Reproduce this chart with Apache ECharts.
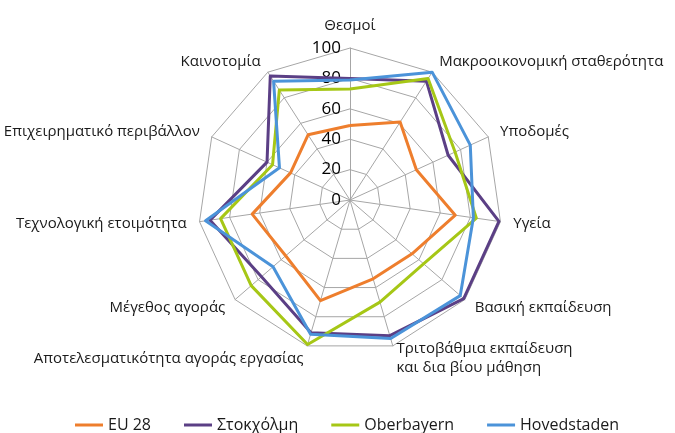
<!DOCTYPE html>
<html>
<head>
<meta charset="utf-8">
<script src="https://cdn.jsdelivr.net/npm/echarts@6/dist/echarts.min.js"></script>
<style>
  html, body { margin: 0; padding: 0; background: #fff; }
  #chart { width: 675px; height: 433px; }
</style>
</head>
<body>
<div id="chart"></div>
<script>
// indicators in clockwise order starting from the top
const indicators = [
  'Θεσμοί',
  'Μακροοικονομική σταθερότητα',
  'Υποδομές',
  'Υγεία',
  'Βασική εκπαίδευση',
  'Τριτοβάθμια εκπαίδευση\nκαι δια βίου μάθηση',
  'Αποτελεσματικότητα αγοράς εργασίας',
  'Μέγεθος αγοράς',
  'Τεχνολογική ετοιμότητα',
  'Επιχειρηματικό περιβάλλον',
  'Καινοτομία'
];
const eu28 = [49, 61, 48, 70, 54, 54, 69, 56, 65, 43, 51];
const stockholm = [80, 93, 71, 99, 99, 93, 91, 77, 93, 60, 97];
const oberbayern = [73, 95, 76, 84, 64, 70, 99, 86, 86, 56, 86];
const hovedstaden = [79, 100, 87, 82, 96, 95, 92, 67, 96, 51, 93];
const ticks = [0, 20, 40, 60, 80, 100];

const seriesNames = ['EU 28', 'Στοκχόλμη', 'Oberbayern', 'Hovedstaden'];
const colors = ['#EE7E2D', '#5B3F85', '#A6C716', '#4B93D9'];

// echarts lays radar axes out counter-clockwise, so flip the order after the first one
const order = [0].concat(indicators.map((_, i) => i).slice(1).reverse());
const pick = arr => order.map(i => arr[i]);

const font = 'Open Sans';
const center = ['51.85%', '46.2%'];
const radius = 152;

const chart = echarts.init(document.getElementById('chart'), null, { renderer: 'canvas' });
chart.setOption({
  animation: false,
  color: colors,
  textStyle: { fontFamily: font },
  legend: {
    top: 412,
    left: 70,
    itemGap: 33,
    itemWidth: 28,
    itemHeight: 3,
    icon: 'rect',
    textStyle: { fontFamily: font, fontSize: 16, color: '#1a1a1a' },
    data: seriesNames
  },
  radar: {
    center: center,
    radius: radius,
    startAngle: 90,
    shape: 'polygon',
    splitNumber: 5,
    nameGap: 13,
    axisName: { color: '#1a1a1a', fontFamily: font, fontSize: 15, lineHeight: 19 },
    axisLine: { lineStyle: { color: '#a6a6a6', width: 1 } },
    splitLine: { lineStyle: { color: '#a6a6a6', width: 1 } },
    splitArea: { show: false },
    indicator: pick(indicators).map(n => ({ name: n, min: 0, max: 100 }))
  },
  polar: { center: center, radius: radius },
  angleAxis: {
    startAngle: 90, show: false, min: 0, max: 360
  },
  radiusAxis: {
    min: ticks[0], max: ticks[ticks.length - 1], interval: 20,
    axisLine: { show: false }, axisTick: { show: false }, splitLine: { show: false },
    axisLabel: { color: '#000', fontFamily: font, fontSize: 17, margin: 9 }
  },
  series: [{
    type: 'radar',
    symbol: 'none',
    lineStyle: { width: 3 },
    data: [eu28, stockholm, oberbayern, hovedstaden].map((v, i) => ({
      name: seriesNames[i],
      value: pick(v),
      lineStyle: { width: 3, color: colors[i] },
      itemStyle: { color: colors[i] }
    }))
  }]
});
</script>
</body>
</html>
